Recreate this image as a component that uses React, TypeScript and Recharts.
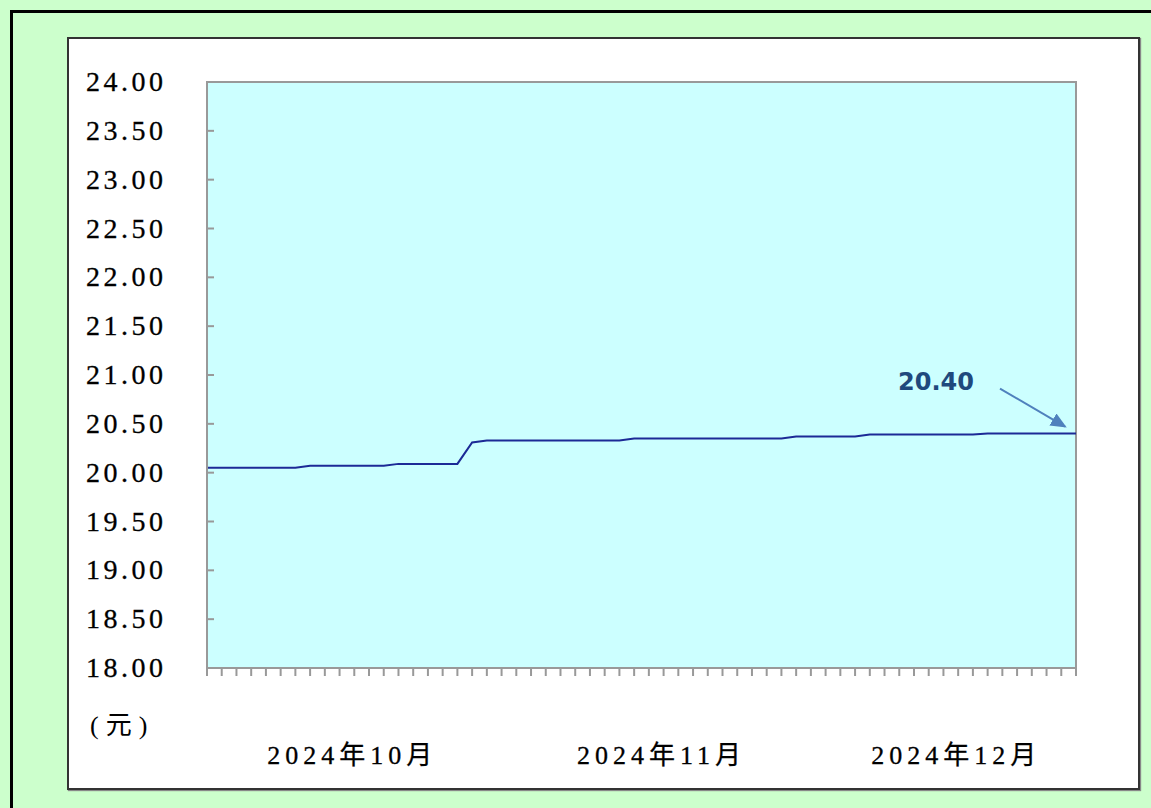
import { LineChart, Line, XAxis, YAxis, ReferenceArea } from 'recharts';

// trading days, Oct 8 – Dec 30 2024
const days = [
  '10-08', '10-09', '10-10', '10-11', '10-14', '10-15', '10-16', '10-17', '10-18', '10-21',
  '10-22', '10-23', '10-24', '10-25', '10-28', '10-29', '10-30', '10-31',
  '11-01', '11-04', '11-05', '11-06', '11-07', '11-08', '11-11', '11-12', '11-13', '11-14',
  '11-15', '11-18', '11-19', '11-20', '11-21', '11-22', '11-25', '11-26', '11-27', '11-28', '11-29',
  '12-02', '12-03', '12-04', '12-05', '12-06', '12-09', '12-10', '12-11', '12-12', '12-13', '12-16',
  '12-17', '12-18', '12-19', '12-20', '12-23', '12-24', '12-25', '12-26', '12-27', '12-30',
];

const prices = [
  20.05, 20.05, 20.05, 20.05, 20.05, 20.05, 20.05,
  20.07, 20.07, 20.07, 20.07, 20.07, 20.07,
  20.09, 20.09, 20.09, 20.09, 20.09,
  20.31,
  20.33, 20.33, 20.33, 20.33, 20.33, 20.33, 20.33, 20.33, 20.33, 20.33,
  20.35, 20.35, 20.35, 20.35, 20.35, 20.35, 20.35, 20.35, 20.35, 20.35, 20.35,
  20.37, 20.37, 20.37, 20.37, 20.37,
  20.39, 20.39, 20.39, 20.39, 20.39, 20.39, 20.39, 20.39,
  20.40, 20.40, 20.40, 20.40, 20.40, 20.40, 20.40,
];

const yTicks = [18, 18.5, 19, 19.5, 20, 20.5, 21, 21.5, 22, 22.5, 23, 23.5, 24];

// month label shown under these category indexes
const monthLabels: Record<number, string> = {
  10: '2024年10月',
  31: '2024年11月',
  51: '2024年12月',
};

const data = days.map((d, i) => ({ day: d, price: prices[i] }));

const serif = '"Liberation Serif", "Noto Sans CJK SC", serif';

function YTick(props: any) {
  const { x, y, payload } = props;
  return (
    <g>
      <line x1={x} y1={y} x2={x + 7} y2={y} stroke="#999" strokeWidth={2} />
      <text x={x - 121} y={y} dy={9} textAnchor="start" fontFamily={serif} fontSize={28} letterSpacing={3.5} fill="#000" stroke="#000" strokeWidth={0.3}>
        {Number(payload.value).toFixed(2)}
      </text>
    </g>
  );
}

function XTick(props: any) {
  const { x, y, index } = props;
  const label = monthLabels[index];
  if (!label) return null;
  return (
    <text x={x - 2} y={y + 86} textAnchor="middle" fontFamily={serif} fontSize={26} letterSpacing={5} fill="#000" stroke="#000" strokeWidth={0.3}>
      {label}
    </text>
  );
}

function LastLabel(props: any) {
  const { x, y, index, value } = props;
  if (index !== prices.length - 1) return null;
  return (
    <g>
      <text x={x - 178} y={y - 44} fontFamily='"DejaVu Sans", sans-serif' fontWeight="bold" fontSize={24} fill="#1f497d">
        {Number(value).toFixed(2)}
      </text>
      <line x1={x - 76} y1={y - 45} x2={x - 11} y2={y - 7} stroke="#4f81bd" strokeWidth={2} markerEnd="url(#arrowHead)" />
    </g>
  );
}

export default function App() {
  return (
    <div style={{ position: 'absolute', left: 0, top: 0, width: 1151, height: 808, overflow: 'hidden', background: '#ccffcc' }}>
      <div style={{ position: 'absolute', left: 10, top: 10, width: 1200, height: 860, border: '3px solid #000' }} />
      <div style={{ position: 'absolute', left: 67, top: 37, width: 1069, height: 749, background: '#fff', border: '2px solid #333', boxShadow: '1px 1px 1px #888' }} />
      <div style={{ position: 'absolute', left: 90, top: 704, fontFamily: serif, fontSize: 26, letterSpacing: 7, color: '#000' }}>(元)</div>
      <div style={{ position: 'absolute', left: 0, top: 0 }}>
        <LineChart width={1151} height={808} data={data} margin={{ top: 82, right: 75, bottom: 50, left: 0 }}>
          <defs>
            <marker id="arrowHead" markerWidth="8" markerHeight="7" refX="7" refY="3.5" orient="auto" markerUnits="strokeWidth">
              <path d="M0,0 L8,3.5 L0,7 z" fill="#4f81bd" />
            </marker>
          </defs>
          <ReferenceArea y1={18} y2={24} fill="#ccffff" fillOpacity={1} stroke="#999" strokeWidth={2} />
          <XAxis
            dataKey="day"
            interval={0}
            height={90}
            tickSize={8}
            tickMargin={2}
            axisLine={{ stroke: '#999', strokeWidth: 2 }}
            tickLine={{ stroke: '#999', strokeWidth: 2 }}
            tick={<XTick />}
          />
          <YAxis
            domain={[18, 24]}
            ticks={yTicks}
            interval={0}
            width={207}
            tickSize={0}
            tickMargin={0}
            tickLine={false}
            axisLine={{ stroke: '#999', strokeWidth: 2 }}
            tick={<YTick />}
          />
          <Line
            type="linear"
            dataKey="price"
            stroke="#1c2a96"
            strokeWidth={2}
            dot={false}
            isAnimationActive={false}
            label={<LastLabel />}
          />
        </LineChart>
      </div>
    </div>
  );
}
